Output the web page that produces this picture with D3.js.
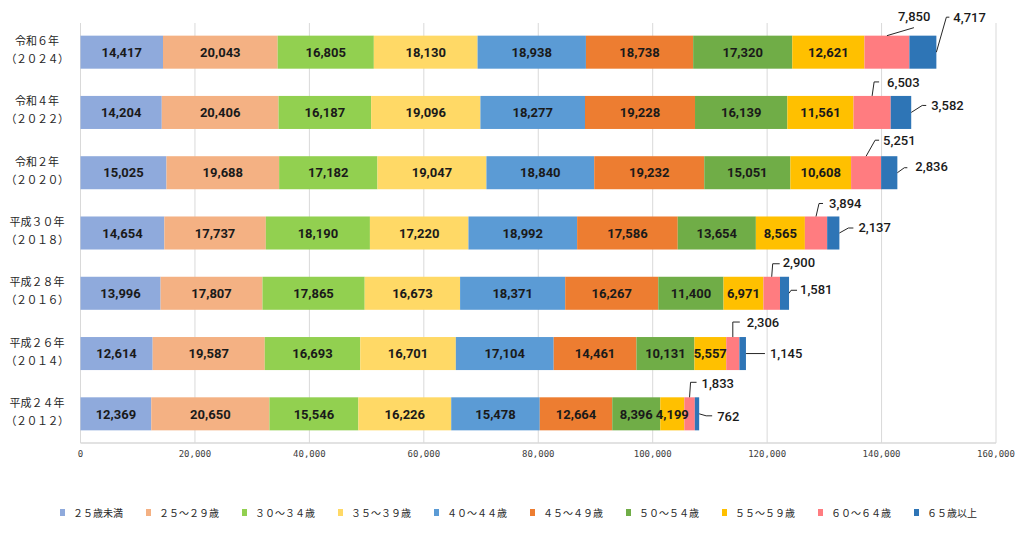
<!DOCTYPE html>
<html>
<head>
<meta charset="utf-8">
<script src="https://cdn.jsdelivr.net/npm/d3@7"></script>
<style>
    body { margin: 0; background: #fff; }
    svg { display: block; }
</style>
</head>
<body>
<div id="chart"></div>
<script>
// 年齢階級別の積み上げ横棒グラフ

const years = ["2024", "2022", "2020", "2018", "2016", "2014", "2012"];
const eraLabels = ["令和６年", "令和４年", "令和２年", "平成３０年", "平成２８年", "平成２６年", "平成２４年"];
const yearLabels = ["（２０２４）", "（２０２２）", "（２０２０）", "（２０１８）", "（２０１６）", "（２０１４）", "（２０１２）"];
const ageGroups = ["２５歳未満", "２５～２９歳", "３０～３４歳", "３５～３９歳", "４０～４４歳",
                   "４５～４９歳", "５０～５４歳", "５５～５９歳", "６０～６４歳", "６５歳以上"];

const values2024 = [14417, 20043, 16805, 18130, 18938, 18738, 17320, 12621, 7850, 4717];
const values2022 = [14204, 20406, 16187, 19096, 18277, 19228, 16139, 11561, 6503, 3582];
const values2020 = [15025, 19688, 17182, 19047, 18840, 19232, 15051, 10608, 5251, 2836];
const values2018 = [14654, 17737, 18190, 17220, 18992, 17586, 13654, 8565, 3894, 2137];
const values2016 = [13996, 17807, 17865, 16673, 18371, 16267, 11400, 6971, 2900, 1581];
const values2014 = [12614, 19587, 16693, 16701, 17104, 14461, 10131, 5557, 2306, 1145];
const values2012 = [12369, 20650, 15546, 16226, 15478, 12664, 8396, 4199, 1833, 762];

const xTicks = [0, 20000, 40000, 60000, 80000, 100000, 120000, 140000, 160000];

const colors = ["#8faadc", "#f4b183", "#92d050", "#ffd966", "#5b9bd5",
                "#ed7d31", "#70ad47", "#ffc000", "#ff7c80", "#2e75b6"];

// 引き出し線ラベルの位置 (区間からの相対オフセット) : [折れ点dx, 折れ点dy, 終点dx, 終点dy, 文字dx, 文字dy]
const pinkCallouts = [
    [27, -8, 27, -8, 11, -19],
    [2, -14, 7, -14, 15, -14],
    [9, -16, 13, -16, 17, -16],
    [3, -13, 7, -13, 13, -13],
    [1, -13, 8, -13, 11, -14],
    [0, -15, 7, -15, 14, -15],
    [1, -15, 7, -15, 12, -14]
];
const blueCallouts = [
    [10, -35, 13, -35, 17, -35],
    [11, -7, 15, -7, 20, -7],
    [7, -5, 10, -5, 18, -6],
    [9, -5, 14, -5, 19, -6],
    [2, -3, 8, -3, 11, -4],
    [1, 0, 19, 0, 24, 0],
    [7, 2, 13, 2, 18, 2]
];

const width = 1024, height = 548;
const series = [values2024, values2022, values2020, values2018, values2016, values2014, values2012];

const svg = d3.select("#chart").append("svg")
    .attr("width", width)
    .attr("height", height);

const x = d3.scaleLinear().domain([0, 160000]).range([80.5, 996]);
const y = d3.scaleBand().domain(years).range([23, 443]).paddingInner(0.452).paddingOuter(0.21);
const fmt = d3.format(",");

// グリッド線
svg.append("g")
    .selectAll("line")
    .data(xTicks)
    .join("line")
    .attr("x1", d => x(d)).attr("x2", d => x(d))
    .attr("y1", 23).attr("y2", 443)
    .attr("stroke", "#d9d9d9")
    .attr("stroke-width", 1);

svg.append("line")
    .attr("x1", x(0)).attr("x2", x(160000))
    .attr("y1", 443).attr("y2", 443)
    .attr("stroke", "#d9d9d9")
    .attr("stroke-width", 1.5);

// 目盛りラベル
svg.append("g")
    .selectAll("text")
    .data(xTicks)
    .join("text")
    .attr("x", d => x(d))
    .attr("y", 457)
    .attr("text-anchor", "middle")
    .style("font-family", "'DejaVu Sans Mono', monospace")
    .style("font-size", "9px")
    .attr("fill", "#404040")
    .text(d => fmt(d));

// 縦軸ラベル
const yAxis = svg.append("g");
years.forEach((yr, i) => {
    const cy = y(yr) + y.bandwidth() / 2;
    yAxis.append("text")
        .attr("x", 37).attr("y", cy - 7)
        .attr("text-anchor", "middle")
        .style("font-family", "'Noto Sans CJK JP', sans-serif")
        .style("font-size", "11px")
        .attr("fill", "#262626")
        .text(eraLabels[i]);
    yAxis.append("text")
        .attr("x", 37).attr("y", cy + 11)
        .attr("text-anchor", "middle")
        .style("font-family", "'Noto Sans CJK JP', sans-serif")
        .style("font-size", "11px")
        .style("letter-spacing", "-0.5px")
        .attr("fill", "#262626")
        .text(yearLabels[i]);
});

// 積み上げ
const rows = years.map((yr, i) => {
    let acc = 0;
    return series[i].map((v, j) => {
        const seg = { year: yr, group: j, value: v, x0: acc, x1: acc + v };
        acc += v;
        return seg;
    });
});

const bars = svg.append("g");
rows.forEach(row => {
    bars.selectAll(null)
        .data(row)
        .enter().append("rect")
        .attr("x", d => x(d.x0))
        .attr("y", d => y(d.year))
        .attr("width", d => x(d.x1) - x(d.x0))
        .attr("height", y.bandwidth())
        .attr("fill", d => colors[d.group]);
});

// 区間内ラベル
const inner = svg.append("g");
rows.forEach(row => {
    inner.selectAll(null)
        .data(row.filter(d => d.group < 8))
        .enter().append("text")
        .attr("x", d => (x(d.x0) + x(d.x1)) / 2)
        .attr("y", d => y(d.year) + y.bandwidth() / 2)
        .attr("dy", "0.36em")
        .attr("text-anchor", "middle")
        .style("font-family", "Roboto, sans-serif")
        .style("font-size", "13px")
        .style("font-weight", "bold")
        .attr("fill", "#1a1a1a")
        .text(d => fmt(d.value));
});

// 引き出し線ラベル
const callouts = svg.append("g");
function drawCallout(ax, ay, c, value) {
    callouts.append("path")
        .attr("d", `M${ax},${ay}L${ax + c[0]},${ay + c[1]}L${ax + c[2]},${ay + c[3]}`)
        .attr("fill", "none")
        .attr("stroke", "#262626")
        .attr("stroke-width", 1);
    callouts.append("text")
        .attr("x", ax + c[4])
        .attr("y", ay + c[5])
        .attr("dy", "0.36em")
        .style("font-family", "Roboto, sans-serif")
        .style("font-size", "13px")
        .style("font-weight", "500")
        .attr("fill", "#1a1a1a")
        .text(fmt(value));
}

rows.forEach((row, i) => {
    const pink = row[8], blue = row[9];
    drawCallout((x(pink.x0) + x(pink.x1)) / 2, y(pink.year), pinkCallouts[i], pink.value);
    drawCallout(x(blue.x1), y(blue.year) + y.bandwidth() / 2, blueCallouts[i], blue.value);
});

// 凡例 (文字幅に応じて並べる)
const legend = svg.append("g").attr("transform", "translate(60, 513)");
let legendX = 0;
ageGroups.forEach((g, i) => {
    const item = legend.append("g").attr("transform", `translate(${legendX}, 0)`);
    item.append("rect")
        .attr("x", 0).attr("y", -4)
        .attr("width", 5).attr("height", 7)
        .attr("fill", colors[i]);
    const t = item.append("text")
        .attr("x", 13).attr("y", 0)
        .attr("dy", "0.36em")
        .style("font-family", "'Noto Sans CJK JP', sans-serif")
        .style("font-size", "10px")
        .attr("fill", "#262626")
        .text(g);
    legendX += 36 + t.node().getComputedTextLength();
});
</script>
</body>
</html>
